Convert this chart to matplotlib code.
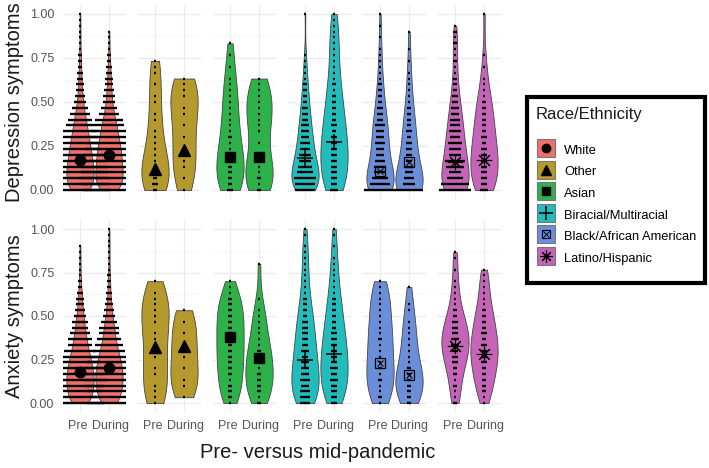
import numpy as np
import matplotlib
matplotlib.use("Agg")
import matplotlib.pyplot as plt
from matplotlib.patches import Rectangle
from matplotlib.lines import Line2D
from matplotlib.legend_handler import HandlerTuple
from matplotlib.transforms import ScaledTranslation

plt.rcParams['font.family'] = ['Liberation Sans', 'DejaVu Sans']

groups = ["White", "Other", "Asian", "Biracial/Multiracial",
          "Black/African American", "Latino/Hispanic"]
colors = ["#EE7068", "#B5992C", "#2DB24A", "#22BCBD", "#6A8FD8", "#C564B8"]
times = ["Pre", "During"]
levels = np.arange(31) / 30  # dot-plot bins (binwidth = 1/30)

# counts of respondents per bin, bins 0, 1/30, 2/30, ...
dep_white_pre = [30, 30, 30, 28, 28, 26, 24, 22, 20, 18, 17, 14, 12, 10, 8, 6, 5, 4, 4, 3, 3, 2, 2, 2, 1, 1, 1, 1, 1, 1, 1]
dep_white_during = [26, 28, 30, 28, 28, 26, 26, 24, 22, 20, 18, 15, 14, 10, 8, 6, 6, 5, 4, 4, 3, 3, 2, 2, 1, 1, 1, 1]
dep_other_pre = [2, 3, 2, 2, 2, 1, 1, 1, 1, 1, 1, 0, 1, 1, 0, 1, 1, 0, 1, 0, 1, 1, 1]
dep_other_during = [1, 0, 1, 0, 1, 1, 0, 1, 0, 1, 0, 1, 0, 1, 1, 0, 1, 1, 1, 1]
dep_asian_pre = [3, 2, 2, 2, 2, 2, 2, 1, 1, 2, 1, 1, 1, 1, 1, 1, 1, 1, 1, 1, 0, 1, 0, 1, 0, 1]
dep_asian_during = [2, 1, 2, 1, 1, 1, 1, 0, 1, 0, 1, 1, 1, 1, 1, 1, 1, 1, 1, 1]
dep_biracial_pre = [10, 10, 11, 8, 7, 6, 6, 5, 5, 4, 4, 4, 3, 3, 3, 2, 2, 2, 2, 1, 1, 1, 1, 1, 0, 0, 0, 0, 0, 0, 1]
dep_biracial_during = [4, 3, 3, 3, 3, 3, 3, 3, 3, 3, 2, 3, 2, 2, 2, 2, 2, 1, 2, 1, 1, 1, 1, 1, 1, 1, 1, 1, 1, 1, 1]
dep_black_pre = [16, 10, 8, 6, 6, 5, 4, 4, 5, 4, 4, 5, 3, 3, 3, 2, 2, 2, 2, 1, 1, 1, 1, 1, 1, 0, 1, 0, 1, 0, 1]
dep_black_during = [14, 6, 5, 4, 4, 3, 3, 3, 3, 2, 3, 2, 2, 2, 2, 1, 1, 1, 1, 1, 1, 0, 1, 0, 1, 0, 0, 1]
dep_latino_pre = [16, 14, 8, 6, 9, 10, 6, 6, 7, 5, 6, 5, 5, 4, 4, 3, 3, 2, 2, 2, 1, 1, 2, 1, 1, 2, 1, 2, 1]
dep_latino_during = [4, 3, 3, 3, 3, 3, 3, 3, 2, 3, 2, 2, 2, 2, 2, 2, 1, 1, 1, 1, 0, 1, 0, 1, 0, 0, 0, 0, 0, 0, 1]

anx_white_pre = [24, 20, 22, 24, 26, 24, 22, 20, 18, 16, 12, 12, 10, 8, 8, 6, 5, 4, 4, 3, 2, 2, 1, 1, 1, 1, 1, 1]
anx_white_during = [22, 20, 22, 24, 26, 26, 24, 22, 20, 16, 14, 12, 10, 10, 8, 6, 5, 4, 3, 3, 2, 2, 2, 1, 1, 1, 1, 1, 1, 1, 1]
anx_other_pre = [1, 1, 1, 1, 0, 1, 1, 0, 1, 1, 0, 1, 1, 0, 1, 1, 1, 1, 1, 1, 0, 1]
anx_other_during = [0, 1, 0, 1, 1, 0, 1, 0, 1, 0, 1, 0, 1, 0, 1, 0, 1]
anx_asian_pre = [1, 2, 2, 2, 1, 2, 2, 2, 2, 2, 2, 2, 2, 2, 2, 2, 2, 2, 2, 1, 1, 1]
anx_asian_during = [2, 1, 2, 2, 2, 2, 1, 2, 2, 2, 1, 1, 1, 1, 1, 1, 1, 0, 1, 0, 0, 0, 0, 0, 1]
anx_biracial_pre = [5, 5, 5, 4, 5, 4, 4, 4, 3, 4, 3, 3, 3, 3, 3, 2, 2, 2, 2, 1, 1, 1, 1, 1, 1, 1, 1, 1, 0, 1, 1]
anx_biracial_during = [3, 3, 3, 3, 4, 3, 4, 3, 3, 3, 3, 3, 3, 2, 2, 2, 2, 2, 2, 1, 1, 1, 1, 1, 1, 1, 0, 1, 0, 1, 1]
anx_black_pre = [1, 2, 1, 1, 2, 1, 2, 1, 1, 1, 1, 2, 1, 1, 1, 1, 1, 1, 1, 1, 1, 1]
anx_black_during = [2, 2, 2, 2, 2, 2, 2, 1, 1, 1, 1, 1, 1, 1, 1, 0, 1, 1, 0, 0, 1]
anx_latino_pre = [2, 1, 1, 2, 1, 2, 2, 3, 3, 3, 4, 4, 3, 3, 3, 2, 2, 1, 1, 1, 1, 1, 0, 1, 0, 1, 1]
anx_latino_during = [1, 1, 2, 2, 2, 2, 2, 3, 3, 3, 3, 2, 3, 2, 2, 2, 2, 1, 1, 1, 1, 1, 1, 1]

dep_mean_pre = [0.17, 0.12, 0.19, 0.18, 0.11, 0.16]
dep_mean_during = [0.20, 0.23, 0.19, 0.27, 0.16, 0.17]
anx_mean_pre = [0.18, 0.32, 0.38, 0.25, 0.23, 0.33]
anx_mean_during = [0.20, 0.33, 0.26, 0.28, 0.16, 0.28]

dep_counts = [[dep_white_pre, dep_white_during], [dep_other_pre, dep_other_during],
              [dep_asian_pre, dep_asian_during], [dep_biracial_pre, dep_biracial_during],
              [dep_black_pre, dep_black_during], [dep_latino_pre, dep_latino_during]]
anx_counts = [[anx_white_pre, anx_white_during], [anx_other_pre, anx_other_during],
              [anx_asian_pre, anx_asian_during], [anx_biracial_pre, anx_biracial_during],
              [anx_black_pre, anx_black_during], [anx_latino_pre, anx_latino_during]]
rows = [("Depression symptoms", dep_counts, dep_mean_pre, dep_mean_during),
        ("Anxiety symptoms", anx_counts, anx_mean_pre, anx_mean_during)]

markers = [dict(marker='o', ms=7.5),
           dict(marker='^', ms=8.5),
           dict(marker='s', ms=7),
           dict(marker='+', ms=12, mew=1.1),
           None,  # square with cross, drawn in two parts
           dict(marker=(8, 2, 0), ms=11, mew=0.8)]


def density(counts):
    vals = np.repeat(levels[:len(counts)], counts)
    n = len(vals)
    sd = vals.std(ddof=1)
    q75, q25 = np.percentile(vals, [75, 25])
    spread = min(sd, (q75 - q25) / 1.34) if q75 > q25 else sd
    bw = 0.9 * spread * n ** -0.2
    y = np.linspace(vals.min(), vals.max(), 256)
    d = np.exp(-0.5 * ((y[:, None] - vals[None, :]) / bw) ** 2).sum(1)
    return y, d / (n * bw * np.sqrt(2 * np.pi))


def draw_mean(ax, x, y, gi):
    if gi == 4:
        ax.plot(x, y, marker='s', ms=7, mfc='none', mec='black', mew=0.9, zorder=5)
        ax.plot(x, y, marker='x', ms=5, color='black', mew=0.8, zorder=5)
    else:
        ax.plot(x, y, color='black', ls='none', zorder=5, **markers[gi])


fig = plt.figure(figsize=(7.09, 4.68), dpi=100)
W, H = 709, 468
unit = 0.07  # width of one stacked dot in x data units
row_px = [(5.2, 198.8), (220.3, 411.7)]

for ri, (title, counts, mpre, mdur) in enumerate(rows):
    top, bot = row_px[ri]
    for gi in range(6):
        left = 62.6 + gi * 75
        ax = fig.add_axes([left / W, 1 - bot / H, 63.8 / W, (bot - top) / H])
        ax.set_xlim(0.4, 2.6)
        ax.set_ylim(-0.05, 1.05)
        ax.set_yticks([0, 0.25, 0.5, 0.75, 1.0])
        ax.set_yticks([0.125, 0.375, 0.625, 0.875], minor=True)
        ax.set_xticks([1, 2])
        ax.grid(True, which='major', color='#EBEBEB', lw=0.9)
        ax.grid(True, which='minor', axis='y', color='#F3F3F3', lw=0.5)
        ax.set_axisbelow(True)
        for s in ax.spines.values():
            s.set_visible(False)
        ax.tick_params(length=0, which='both', labelsize=9, labelcolor='#555555', pad=6)
        if gi == 0:
            ax.set_yticklabels(["0.00", "0.25", "0.50", "0.75", "1.00"])
        else:
            ax.set_yticklabels([])
        if ri == 1:
            ax.set_xticklabels(times)
            for lab, dx in zip(ax.get_xticklabels(), [-2, 1]):
                lab.set_transform(lab.get_transform() +
                                  ScaledTranslation(dx / 100, 0, fig.dpi_scale_trans))
        else:
            ax.set_xticklabels([])

        for ti in range(2):
            y, d = density(counts[gi][ti])
            x0 = ti + 1
            w = 0.47 * d / d.max()
            ax.fill_betweenx(y, x0 - w, x0 + w, facecolor=colors[gi],
                             edgecolor='#444444', lw=0.6, zorder=2)
            c = np.array(counts[gi][ti])
            k = np.nonzero(c)[0]
            ax.hlines(levels[k], x0 - c[k] * unit / 2, x0 + c[k] * unit / 2,
                      color='black', lw=1.7, zorder=3)
            draw_mean(ax, x0, (mpre, mdur)[ti][gi], gi)

fig.text(15 / W, 1 - 102 / H, "Depression symptoms", rotation=90, ha='center',
         va='center', fontsize=14.5, color='#1a1a1a')
fig.text(15 / W, 1 - 316 / H, "Anxiety symptoms", rotation=90, ha='center',
         va='center', fontsize=14.5, color='#1a1a1a')
fig.text(318 / W, 1 - 452 / H, "Pre- versus mid-pandemic", ha='center',
         va='center', fontsize=14.5, color='#1a1a1a')

# legend box
fig.patches.append(Rectangle((527 / W, 1 - 283 / H), 178 / W, 186 / H,
                             transform=fig.transFigure, fill=False,
                             edgecolor='black', lw=3))
fig.text(536 / W, 1 - 114 / H, "Race/Ethnicity", ha='left', va='center',
         fontsize=12, color='#1a1a1a')

handles = []
for gi in range(6):
    key = Line2D([], [], ls='none', marker='s', ms=13, mfc=colors[gi],
                 mec='#777777', mew=0.8)
    if gi == 4:
        h = (key,
             Line2D([], [], ls='none', marker='s', ms=6, mfc='none', mec='black', mew=0.8),
             Line2D([], [], ls='none', marker='x', ms=4.5, color='black', mew=0.7))
    else:
        m = dict(markers[gi])
        m['ms'] = m['ms'] * 0.8
        h = (key, Line2D([], [], ls='none', color='black', **m))
    handles.append(h)

leg = fig.legend(handles, groups, loc='upper left',
                 bbox_to_anchor=(537 / W, 1 - 142 / H), borderaxespad=0,
                 handler_map={tuple: HandlerTuple(ndivide=1)},
                 fontsize=9.3, frameon=False,
                 handlelength=1.4, handleheight=1.4, handletextpad=0.7,
                 labelspacing=0.52, borderpad=0)

fig.savefig("out.png", dpi=100, facecolor='white')
